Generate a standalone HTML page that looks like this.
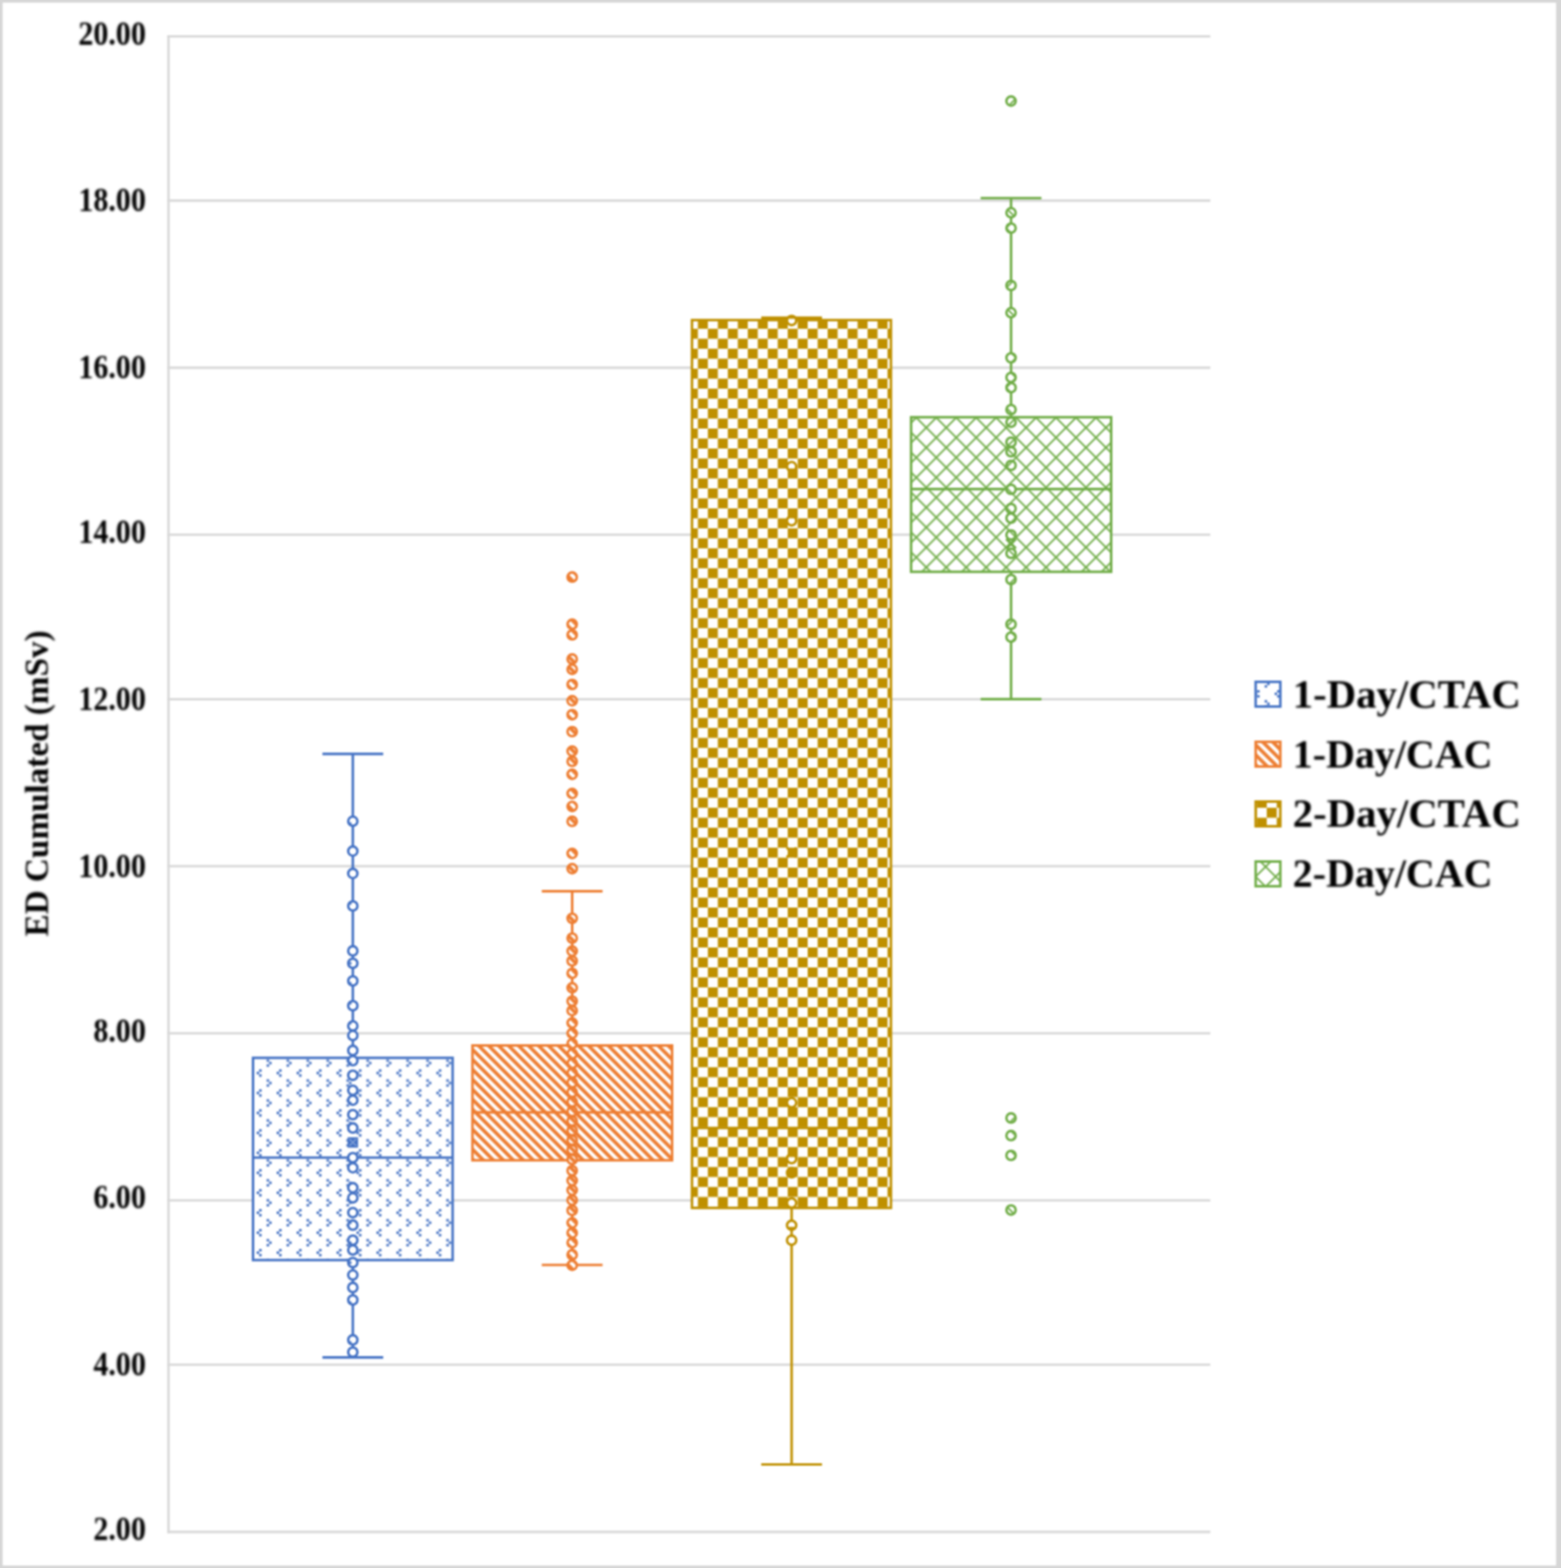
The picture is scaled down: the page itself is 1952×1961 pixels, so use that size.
<!DOCTYPE html>
<html><head><meta charset="utf-8"><title>ED Cumulated box plot</title>
<style>
html,body{margin:0;padding:0;background:#fff;overflow:hidden;width:1952px;height:1961px;}
svg{display:block;}
.t{font-family:"Liberation Serif","Times New Roman",serif;font-weight:bold;fill:#000;}
</style></head><body>
<svg width="1952" height="1961" viewBox="0 0 1952 1961">
<defs>
<filter id="soft" x="0" y="0" width="1" height="1" color-interpolation-filters="sRGB"><feGaussianBlur stdDeviation="1"/></filter>
<filter id="softT" x="-0.05" y="-0.05" width="1.1" height="1.1" color-interpolation-filters="sRGB"><feGaussianBlur stdDeviation="0.85"/></filter>
<pattern id="pB" patternUnits="userSpaceOnUse" x="21.42" y="14.44" width="24.96" height="24.96"><rect width="24.96" height="24.96" fill="#fff"/><rect x="3.12" y="0" width="3.12" height="3.12" fill="#4472C4"/><rect x="0" y="3.12" width="3.12" height="3.12" fill="#4472C4"/><rect x="3.12" y="6.24" width="3.12" height="3.12" fill="#4472C4"/><rect x="12.48" y="12.48" width="3.12" height="3.12" fill="#4472C4"/><rect x="15.6" y="15.6" width="3.12" height="3.12" fill="#4472C4"/><rect x="12.48" y="18.72" width="3.12" height="3.12" fill="#4472C4"/></pattern>
<pattern id="pO" patternUnits="userSpaceOnUse" x="2.16" y="0" width="12.48" height="12.48"><rect width="12.48" height="12.48" fill="#fff"/><path fill="#ED7D31" d="M0 0H3.12 L12.48 9.36 V12.48 H9.36 L0 3.12 Z M9.36 0 H12.48 V3.12 Z M0 9.36 L3.12 12.48 H0 Z"/></pattern>
<pattern id="pG" patternUnits="userSpaceOnUse" x="11.6" y="11.84" width="24.96" height="24.96"><rect width="24.96" height="24.96" fill="#fff"/><rect width="12.48" height="12.48" fill="#BF9000"/><rect x="12.48" y="12.48" width="12.48" height="12.48" fill="#BF9000"/></pattern>
<pattern id="pN" patternUnits="userSpaceOnUse" x="10.14" y="10.64" width="24.96" height="24.96"><rect width="24.96" height="24.96" fill="#fff"/><path fill="#70AD47" d="M0 0H1.56 L24.96 23.4 V24.96 H23.4 L0 1.56 Z M23.4 0H24.96 V1.56 Z M0 23.4 L1.56 24.96 H0 Z"/><path fill="#70AD47" d="M23.4 0H24.96 V1.56 L1.56 24.96 H0 V23.4 Z M0 0H1.56 L0 1.56 Z M24.96 23.4 L24.96 23.4 V24.96 H23.4 Z"/></pattern>
</defs>
<g filter="url(#soft)">
<rect x="-12" y="-12" width="1976" height="1985" fill="#fff"/>
<g fill="#d6d6d6"><rect x="-12" y="-12" width="1976" height="15.3"/><rect x="-12" y="-12" width="15.3" height="1985"/><rect x="1945.8" y="-12" width="18.2" height="1985"/><rect x="-12" y="1957.9" width="1976" height="15.1"/></g>
<g stroke="#d9d9d9" stroke-width="3.1" fill="none"><line x1="209.15" y1="45.5" x2="1513.5" y2="45.5"/><line x1="209.15" y1="250.9" x2="1513.5" y2="250.9"/><line x1="209.15" y1="459.9" x2="1513.5" y2="459.9"/><line x1="209.15" y1="668.7" x2="1513.5" y2="668.7"/><line x1="209.15" y1="874.5" x2="1513.5" y2="874.5"/><line x1="209.15" y1="1083.3" x2="1513.5" y2="1083.3"/><line x1="209.15" y1="1292.3" x2="1513.5" y2="1292.3"/><line x1="209.15" y1="1501.2" x2="1513.5" y2="1501.2"/><line x1="209.15" y1="1706.8" x2="1513.5" y2="1706.8"/><line x1="209.15" y1="1915.9" x2="1513.5" y2="1915.9"/><line x1="210.7" y1="43.95" x2="210.7" y2="1917.45"/></g>
<g class="t" font-size="41.25" text-anchor="end" filter="url(#softT)"><text transform="translate(182.4 55.7) scale(0.91 1)">20.00</text><text transform="translate(182.4 264.1) scale(0.91 1)">18.00</text><text transform="translate(182.4 473.4) scale(0.91 1)">16.00</text><text transform="translate(182.4 679.3) scale(0.91 1)">14.00</text><text transform="translate(182.4 888.1) scale(0.91 1)">12.00</text><text transform="translate(182.4 1096.6) scale(0.91 1)">10.00</text><text transform="translate(182.4 1302.6) scale(0.91 1)">8.00</text><text transform="translate(182.4 1511.4) scale(0.91 1)">6.00</text><text transform="translate(182.4 1720.3) scale(0.91 1)">4.00</text><text transform="translate(182.4 1926.2) scale(0.91 1)">2.00</text></g>
<g filter="url(#softT)"><text class="t" font-size="41.5" text-anchor="middle" transform="translate(60.4 979.8) rotate(-90)">ED Cumulated (mSv)</text></g>
<g stroke="#4472C4" stroke-width="3.12" fill="none" stroke-linecap="butt"><line x1="441.2" y1="942.9" x2="441.2" y2="1323"/><line x1="441.2" y1="1575.9" x2="441.2" y2="1697.6"/><line x1="403.2" y1="942.9" x2="479.2" y2="942.9"/><line x1="403.2" y1="1697.6" x2="479.2" y2="1697.6"/></g>
<rect x="316.4" y="1323" width="249.6" height="252.9" fill="url(#pB)" stroke="#4472C4" stroke-width="3.12"/>
<line x1="316.4" y1="1447.8" x2="566" y2="1447.8" stroke="#4472C4" stroke-width="3.12"/>
<g><circle cx="441.2" cy="1027.1" r="5.8" fill="url(#pB)" stroke="#4472C4" stroke-width="3.12"/><circle cx="441.2" cy="1064.4" r="5.8" fill="url(#pB)" stroke="#4472C4" stroke-width="3.12"/><circle cx="441.2" cy="1092.4" r="5.8" fill="url(#pB)" stroke="#4472C4" stroke-width="3.12"/><circle cx="441.2" cy="1133" r="5.8" fill="url(#pB)" stroke="#4472C4" stroke-width="3.12"/><circle cx="441.2" cy="1189.2" r="5.8" fill="url(#pB)" stroke="#4472C4" stroke-width="3.12"/><circle cx="441.2" cy="1204.8" r="5.8" fill="url(#pB)" stroke="#4472C4" stroke-width="3.12"/><circle cx="441.2" cy="1226.8" r="5.8" fill="url(#pB)" stroke="#4472C4" stroke-width="3.12"/><circle cx="441.2" cy="1257.8" r="5.8" fill="url(#pB)" stroke="#4472C4" stroke-width="3.12"/><circle cx="441.2" cy="1283.1" r="5.8" fill="url(#pB)" stroke="#4472C4" stroke-width="3.12"/><circle cx="441.2" cy="1295.1" r="5.8" fill="url(#pB)" stroke="#4472C4" stroke-width="3.12"/><circle cx="441.2" cy="1313.7" r="5.8" fill="url(#pB)" stroke="#4472C4" stroke-width="3.12"/><circle cx="441.2" cy="1326.5" r="5.8" fill="url(#pB)" stroke="#4472C4" stroke-width="3.12"/><circle cx="441.2" cy="1344.8" r="5.8" fill="url(#pB)" stroke="#4472C4" stroke-width="3.12"/><circle cx="441.2" cy="1363.6" r="5.8" fill="url(#pB)" stroke="#4472C4" stroke-width="3.12"/><circle cx="441.2" cy="1375.9" r="5.8" fill="url(#pB)" stroke="#4472C4" stroke-width="3.12"/><circle cx="441.2" cy="1394" r="5.8" fill="url(#pB)" stroke="#4472C4" stroke-width="3.12"/><circle cx="441.2" cy="1410.7" r="5.8" fill="url(#pB)" stroke="#4472C4" stroke-width="3.12"/><circle cx="441.2" cy="1447.8" r="5.8" fill="url(#pB)" stroke="#4472C4" stroke-width="3.12"/><circle cx="441.2" cy="1460.4" r="5.8" fill="url(#pB)" stroke="#4472C4" stroke-width="3.12"/><circle cx="441.2" cy="1485.4" r="5.8" fill="url(#pB)" stroke="#4472C4" stroke-width="3.12"/><circle cx="441.2" cy="1498.1" r="5.8" fill="url(#pB)" stroke="#4472C4" stroke-width="3.12"/><circle cx="441.2" cy="1516.6" r="5.8" fill="url(#pB)" stroke="#4472C4" stroke-width="3.12"/><circle cx="441.2" cy="1532.2" r="5.8" fill="url(#pB)" stroke="#4472C4" stroke-width="3.12"/><circle cx="441.2" cy="1551" r="5.8" fill="url(#pB)" stroke="#4472C4" stroke-width="3.12"/><circle cx="441.2" cy="1563.3" r="5.8" fill="url(#pB)" stroke="#4472C4" stroke-width="3.12"/><circle cx="441.2" cy="1579" r="5.8" fill="url(#pB)" stroke="#4472C4" stroke-width="3.12"/><circle cx="441.2" cy="1594.6" r="5.8" fill="url(#pB)" stroke="#4472C4" stroke-width="3.12"/><circle cx="441.2" cy="1610.2" r="5.8" fill="url(#pB)" stroke="#4472C4" stroke-width="3.12"/><circle cx="441.2" cy="1625.8" r="5.8" fill="url(#pB)" stroke="#4472C4" stroke-width="3.12"/><circle cx="441.2" cy="1675.7" r="5.8" fill="url(#pB)" stroke="#4472C4" stroke-width="3.12"/><circle cx="441.2" cy="1691" r="5.8" fill="url(#pB)" stroke="#4472C4" stroke-width="3.12"/></g>
<rect x="434.7" y="1422.3" width="13" height="13" fill="#4472C4"/>
<path d="M436.7 1424.3L445.7 1433.3M445.7 1424.3L436.7 1433.3" stroke="#fff" stroke-opacity="0.35" stroke-width="1.5" fill="none"/>
<g stroke="#ED7D31" stroke-width="3.12" fill="none" stroke-linecap="butt"><line x1="715.5" y1="1114.6" x2="715.5" y2="1307.5"/><line x1="715.5" y1="1451.1" x2="715.5" y2="1582"/><line x1="677.5" y1="1114.6" x2="753.5" y2="1114.6"/><line x1="677.5" y1="1582" x2="753.5" y2="1582"/></g>
<rect x="590.8" y="1307.5" width="249.6" height="143.6" fill="url(#pO)" stroke="#ED7D31" stroke-width="3.12"/>
<line x1="590.8" y1="1391.1" x2="840.4" y2="1391.1" stroke="#ED7D31" stroke-width="3.12"/>
<g><circle cx="715.5" cy="721.7" r="5.8" fill="url(#pO)" stroke="#ED7D31" stroke-width="3.12"/><circle cx="715.5" cy="780.7" r="5.8" fill="url(#pO)" stroke="#ED7D31" stroke-width="3.12"/><circle cx="715.5" cy="794" r="5.8" fill="url(#pO)" stroke="#ED7D31" stroke-width="3.12"/><circle cx="715.5" cy="824.2" r="5.8" fill="url(#pO)" stroke="#ED7D31" stroke-width="3.12"/><circle cx="715.5" cy="837.1" r="5.8" fill="url(#pO)" stroke="#ED7D31" stroke-width="3.12"/><circle cx="715.5" cy="856" r="5.8" fill="url(#pO)" stroke="#ED7D31" stroke-width="3.12"/><circle cx="715.5" cy="876.4" r="5.8" fill="url(#pO)" stroke="#ED7D31" stroke-width="3.12"/><circle cx="715.5" cy="893.8" r="5.8" fill="url(#pO)" stroke="#ED7D31" stroke-width="3.12"/><circle cx="715.5" cy="915" r="5.8" fill="url(#pO)" stroke="#ED7D31" stroke-width="3.12"/><circle cx="715.5" cy="939.4" r="5.8" fill="url(#pO)" stroke="#ED7D31" stroke-width="3.12"/><circle cx="715.5" cy="952.2" r="5.8" fill="url(#pO)" stroke="#ED7D31" stroke-width="3.12"/><circle cx="715.5" cy="968.4" r="5.8" fill="url(#pO)" stroke="#ED7D31" stroke-width="3.12"/><circle cx="715.5" cy="992.4" r="5.8" fill="url(#pO)" stroke="#ED7D31" stroke-width="3.12"/><circle cx="715.5" cy="1008.6" r="5.8" fill="url(#pO)" stroke="#ED7D31" stroke-width="3.12"/><circle cx="715.5" cy="1027.2" r="5.8" fill="url(#pO)" stroke="#ED7D31" stroke-width="3.12"/><circle cx="715.5" cy="1067.4" r="5.8" fill="url(#pO)" stroke="#ED7D31" stroke-width="3.12"/><circle cx="715.5" cy="1086.4" r="5.8" fill="url(#pO)" stroke="#ED7D31" stroke-width="3.12"/><circle cx="715.5" cy="1148.5" r="5.8" fill="url(#pO)" stroke="#ED7D31" stroke-width="3.12"/><circle cx="715.5" cy="1173.3" r="5.8" fill="url(#pO)" stroke="#ED7D31" stroke-width="3.12"/><circle cx="715.5" cy="1189.4" r="5.8" fill="url(#pO)" stroke="#ED7D31" stroke-width="3.12"/><circle cx="715.5" cy="1201.8" r="5.8" fill="url(#pO)" stroke="#ED7D31" stroke-width="3.12"/><circle cx="715.5" cy="1217.3" r="5.8" fill="url(#pO)" stroke="#ED7D31" stroke-width="3.12"/><circle cx="715.5" cy="1235.4" r="5.8" fill="url(#pO)" stroke="#ED7D31" stroke-width="3.12"/><circle cx="715.5" cy="1252" r="5.8" fill="url(#pO)" stroke="#ED7D31" stroke-width="3.12"/><circle cx="715.5" cy="1263.9" r="5.8" fill="url(#pO)" stroke="#ED7D31" stroke-width="3.12"/><circle cx="715.5" cy="1279.4" r="5.8" fill="url(#pO)" stroke="#ED7D31" stroke-width="3.12"/><circle cx="715.5" cy="1292.4" r="5.8" fill="url(#pO)" stroke="#ED7D31" stroke-width="3.12"/><circle cx="715.5" cy="1305.3" r="5.8" fill="url(#pO)" stroke="#ED7D31" stroke-width="3.12"/><circle cx="715.5" cy="1318" r="5.8" fill="url(#pO)" stroke="#ED7D31" stroke-width="3.12"/><circle cx="715.5" cy="1330" r="5.8" fill="url(#pO)" stroke="#ED7D31" stroke-width="3.12"/><circle cx="715.5" cy="1342" r="5.8" fill="url(#pO)" stroke="#ED7D31" stroke-width="3.12"/><circle cx="715.5" cy="1354" r="5.8" fill="url(#pO)" stroke="#ED7D31" stroke-width="3.12"/><circle cx="715.5" cy="1366" r="5.8" fill="url(#pO)" stroke="#ED7D31" stroke-width="3.12"/><circle cx="715.5" cy="1378" r="5.8" fill="url(#pO)" stroke="#ED7D31" stroke-width="3.12"/><circle cx="715.5" cy="1390" r="5.8" fill="url(#pO)" stroke="#ED7D31" stroke-width="3.12"/><circle cx="715.5" cy="1402" r="5.8" fill="url(#pO)" stroke="#ED7D31" stroke-width="3.12"/><circle cx="715.5" cy="1414" r="5.8" fill="url(#pO)" stroke="#ED7D31" stroke-width="3.12"/><circle cx="715.5" cy="1426" r="5.8" fill="url(#pO)" stroke="#ED7D31" stroke-width="3.12"/><circle cx="715.5" cy="1438" r="5.8" fill="url(#pO)" stroke="#ED7D31" stroke-width="3.12"/><circle cx="715.5" cy="1450" r="5.8" fill="url(#pO)" stroke="#ED7D31" stroke-width="3.12"/><circle cx="715.5" cy="1464" r="5.8" fill="url(#pO)" stroke="#ED7D31" stroke-width="3.12"/><circle cx="715.5" cy="1476.4" r="5.8" fill="url(#pO)" stroke="#ED7D31" stroke-width="3.12"/><circle cx="715.5" cy="1488.4" r="5.8" fill="url(#pO)" stroke="#ED7D31" stroke-width="3.12"/><circle cx="715.5" cy="1500.9" r="5.8" fill="url(#pO)" stroke="#ED7D31" stroke-width="3.12"/><circle cx="715.5" cy="1513.7" r="5.8" fill="url(#pO)" stroke="#ED7D31" stroke-width="3.12"/><circle cx="715.5" cy="1529.4" r="5.8" fill="url(#pO)" stroke="#ED7D31" stroke-width="3.12"/><circle cx="715.5" cy="1541.9" r="5.8" fill="url(#pO)" stroke="#ED7D31" stroke-width="3.12"/><circle cx="715.5" cy="1554.3" r="5.8" fill="url(#pO)" stroke="#ED7D31" stroke-width="3.12"/><circle cx="715.5" cy="1569.2" r="5.8" fill="url(#pO)" stroke="#ED7D31" stroke-width="3.12"/><circle cx="715.5" cy="1582.4" r="5.8" fill="url(#pO)" stroke="#ED7D31" stroke-width="3.12"/></g>
<g stroke="#BF9000" stroke-width="3.12" fill="none" stroke-linecap="butt"><line x1="989.9" y1="397.4" x2="989.9" y2="400.3"/><line x1="989.9" y1="1510.7" x2="989.9" y2="1831.5"/><line x1="951.9" y1="397.4" x2="1027.9" y2="397.4"/><line x1="951.9" y1="1831.5" x2="1027.9" y2="1831.5"/></g>
<rect x="865.3" y="400.3" width="248.8" height="1110.4" fill="url(#pG)" stroke="#BF9000" stroke-width="3.12"/>
<line x1="865.3" y1="1410.8" x2="1114.1" y2="1410.8" stroke="#BF9000" stroke-width="3.12"/>
<g><circle cx="989.9" cy="400.8" r="5.8" fill="url(#pG)" stroke="#BF9000" stroke-width="3.12"/><circle cx="989.9" cy="583.6" r="5.8" fill="url(#pG)" stroke="#BF9000" stroke-width="3.12"/><circle cx="989.9" cy="651.3" r="5.8" fill="url(#pG)" stroke="#BF9000" stroke-width="3.12"/><circle cx="989.9" cy="1379.1" r="5.8" fill="url(#pG)" stroke="#BF9000" stroke-width="3.12"/><circle cx="989.9" cy="1449" r="5.8" fill="url(#pG)" stroke="#BF9000" stroke-width="3.12"/><circle cx="989.9" cy="1466.7" r="5.8" fill="url(#pG)" stroke="#BF9000" stroke-width="3.12"/><circle cx="989.9" cy="1504.4" r="5.8" fill="url(#pG)" stroke="#BF9000" stroke-width="3.12"/><circle cx="989.9" cy="1532.4" r="5.8" fill="url(#pG)" stroke="#BF9000" stroke-width="3.12"/><circle cx="989.9" cy="1551.1" r="5.8" fill="url(#pG)" stroke="#BF9000" stroke-width="3.12"/></g>
<path d="M983.9 1060.1L995.9 1072.1M995.9 1060.1L983.9 1072.1" stroke="#BF9000" stroke-width="3.2" fill="none"/>
<g stroke="#70AD47" stroke-width="3.12" fill="none" stroke-linecap="butt"><line x1="1264.3" y1="247.8" x2="1264.3" y2="521.8"/><line x1="1264.3" y1="715.1" x2="1264.3" y2="874.4"/><line x1="1226.3" y1="247.8" x2="1302.3" y2="247.8"/><line x1="1226.3" y1="874.4" x2="1302.3" y2="874.4"/></g>
<rect x="1139.3" y="521.8" width="250.2" height="193.3" fill="url(#pN)" stroke="#70AD47" stroke-width="3.12"/>
<line x1="1139.3" y1="611.6" x2="1389.5" y2="611.6" stroke="#70AD47" stroke-width="3.12"/>
<g><circle cx="1264.3" cy="126.4" r="5.8" fill="url(#pN)" stroke="#70AD47" stroke-width="3.12"/><circle cx="1264.3" cy="266.1" r="5.8" fill="url(#pN)" stroke="#70AD47" stroke-width="3.12"/><circle cx="1264.3" cy="285.3" r="5.8" fill="url(#pN)" stroke="#70AD47" stroke-width="3.12"/><circle cx="1264.3" cy="357" r="5.8" fill="url(#pN)" stroke="#70AD47" stroke-width="3.12"/><circle cx="1264.3" cy="391.1" r="5.8" fill="url(#pN)" stroke="#70AD47" stroke-width="3.12"/><circle cx="1264.3" cy="447.5" r="5.8" fill="url(#pN)" stroke="#70AD47" stroke-width="3.12"/><circle cx="1264.3" cy="472" r="5.8" fill="url(#pN)" stroke="#70AD47" stroke-width="3.12"/><circle cx="1264.3" cy="484.8" r="5.8" fill="url(#pN)" stroke="#70AD47" stroke-width="3.12"/><circle cx="1264.3" cy="512.3" r="5.8" fill="url(#pN)" stroke="#70AD47" stroke-width="3.12"/><circle cx="1264.3" cy="528.1" r="5.8" fill="url(#pN)" stroke="#70AD47" stroke-width="3.12"/><circle cx="1264.3" cy="553" r="5.8" fill="url(#pN)" stroke="#70AD47" stroke-width="3.12"/><circle cx="1264.3" cy="565" r="5.8" fill="url(#pN)" stroke="#70AD47" stroke-width="3.12"/><circle cx="1264.3" cy="582" r="5.8" fill="url(#pN)" stroke="#70AD47" stroke-width="3.12"/><circle cx="1264.3" cy="612" r="5.8" fill="url(#pN)" stroke="#70AD47" stroke-width="3.12"/><circle cx="1264.3" cy="636" r="5.8" fill="url(#pN)" stroke="#70AD47" stroke-width="3.12"/><circle cx="1264.3" cy="648" r="5.8" fill="url(#pN)" stroke="#70AD47" stroke-width="3.12"/><circle cx="1264.3" cy="669" r="5.8" fill="url(#pN)" stroke="#70AD47" stroke-width="3.12"/><circle cx="1264.3" cy="692" r="5.8" fill="url(#pN)" stroke="#70AD47" stroke-width="3.12"/><circle cx="1264.3" cy="724.8" r="5.8" fill="url(#pN)" stroke="#70AD47" stroke-width="3.12"/><circle cx="1264.3" cy="780.7" r="5.8" fill="url(#pN)" stroke="#70AD47" stroke-width="3.12"/><circle cx="1264.3" cy="796.8" r="5.8" fill="url(#pN)" stroke="#70AD47" stroke-width="3.12"/><circle cx="1264.3" cy="1398.2" r="5.8" fill="url(#pN)" stroke="#70AD47" stroke-width="3.12"/><circle cx="1264.3" cy="1420.2" r="5.8" fill="url(#pN)" stroke="#70AD47" stroke-width="3.12"/><circle cx="1264.3" cy="1445" r="5.8" fill="url(#pN)" stroke="#70AD47" stroke-width="3.12"/><circle cx="1264.3" cy="1513.3" r="5.8" fill="url(#pN)" stroke="#70AD47" stroke-width="3.12"/></g>
<path d="M1258.3 674L1270.3 686M1270.3 674L1258.3 686" stroke="#70AD47" stroke-width="3.2" fill="none"/>
<rect x="1570.16" y="852.76" width="30.88" height="30.88" fill="url(#pB)" stroke="#4472C4" stroke-width="3.12"/>
<g filter="url(#softT)"><text class="t" font-size="51" transform="translate(1616.5 884.5) scale(1 1)">1-Day/CTAC</text></g>
<rect x="1570.16" y="927.76" width="30.88" height="30.88" fill="url(#pO)" stroke="#ED7D31" stroke-width="3.12"/>
<g filter="url(#softT)"><text class="t" font-size="51" transform="translate(1616.5 959.5) scale(0.98 1)">1-Day/CAC</text></g>
<rect x="1570.16" y="1002.46" width="30.88" height="30.88" fill="url(#pG)" stroke="#BF9000" stroke-width="3.12"/>
<g filter="url(#softT)"><text class="t" font-size="51" transform="translate(1616.5 1033.6) scale(1 1)">2-Day/CTAC</text></g>
<rect x="1570.16" y="1077.46" width="30.88" height="30.88" fill="url(#pN)" stroke="#70AD47" stroke-width="3.12"/>
<g filter="url(#softT)"><text class="t" font-size="51" transform="translate(1616.5 1108.7) scale(0.98 1)">2-Day/CAC</text></g>
</g>
</svg>
</body></html>
